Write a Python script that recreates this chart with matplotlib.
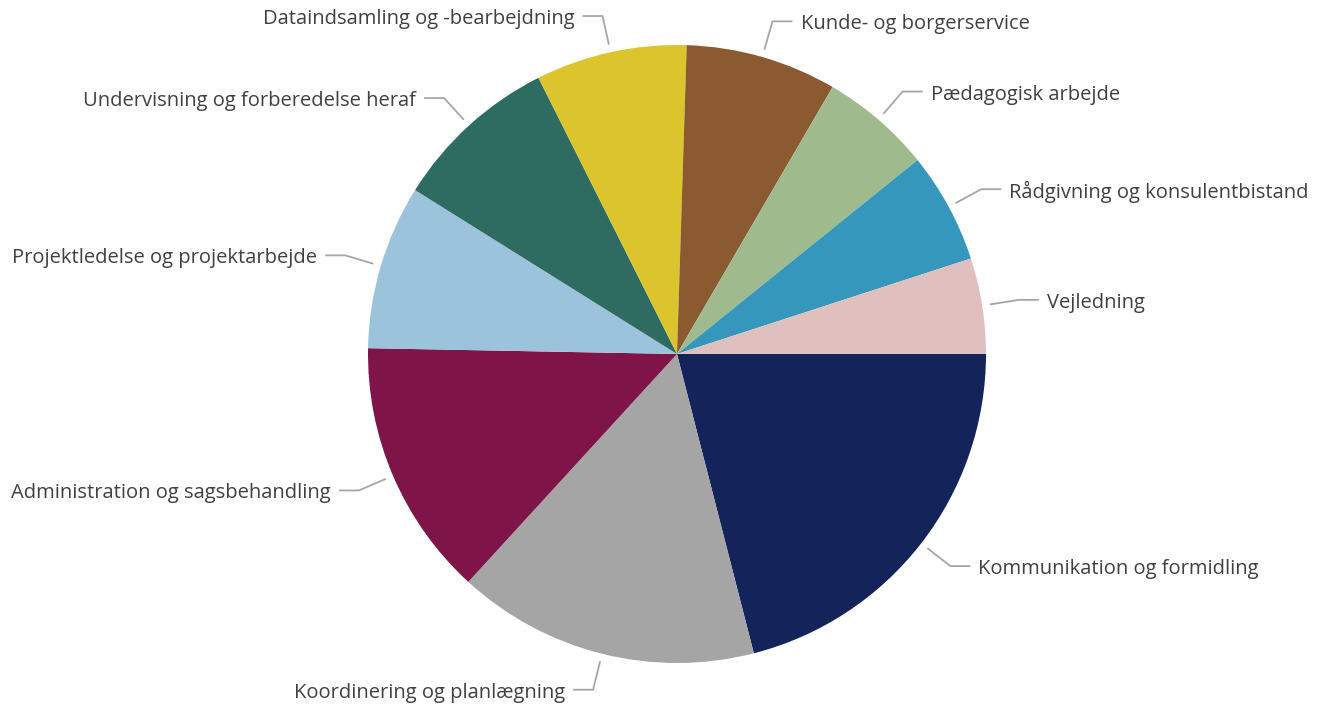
import numpy as np
import matplotlib
matplotlib.use("Agg")
import matplotlib.pyplot as plt

categories = [
    "Kommunikation og formidling",
    "Koordinering og planlægning",
    "Administration og sagsbehandling",
    "Projektledelse og projektarbejde",
    "Undervisning og forberedelse heraf",
    "Dataindsamling og -bearbejdning",
    "Kunde- og borgerservice",
    "Pædagogisk arbejde",
    "Rådgivning og konsulentbistand",
    "Vejledning",
]
values = [21.0, 15.8, 13.5, 8.6, 8.7, 7.9, 7.9, 5.8, 5.8, 5.0]
colors = ["#14245a", "#a5a5a5", "#7f1449", "#9cc3dc", "#2e6b60",
          "#dbc42c", "#8b5a30", "#9fbb8e", "#3597bb", "#e0c0bf"]

W, H = 1328, 708
fig = plt.figure(figsize=(W / 100, H / 100), dpi=100)
ax = fig.add_axes([0, 0, 1, 1])
cx, cy, R = 677, 354, 309
wedges, _ = ax.pie(values, colors=colors, startangle=0, counterclock=False,
                   center=(cx, cy), radius=R, frame=True,
                   wedgeprops=dict(linewidth=0))
ax.set_xlim(0, W)
ax.set_ylim(0, H)
ax.set_aspect("equal")
ax.axis("off")

for w, lab in zip(wedges, categories):
    ang = np.deg2rad((w.theta1 + w.theta2) / 2)
    c, s = np.cos(ang), np.sin(ang)
    x0, y0 = cx + R * 1.025 * c, cy + R * 1.025 * s
    x1, y1 = cx + R * 1.12 * c, cy + R * 1.12 * s
    d = 1 if c >= 0 else -1
    x2 = x1 + 20 * d
    ax.plot([x0, x1, x2], [y0, y1, y1], color="#a6a6a6", lw=1.3,
            solid_capstyle="butt")
    ax.text(x2 + 8 * d, y1 - 3, lab, ha="left" if d > 0 else "right",
            va="center", fontsize=14.5, color="#404040", family="Open Sans")

fig.savefig("out.png", dpi=100)
